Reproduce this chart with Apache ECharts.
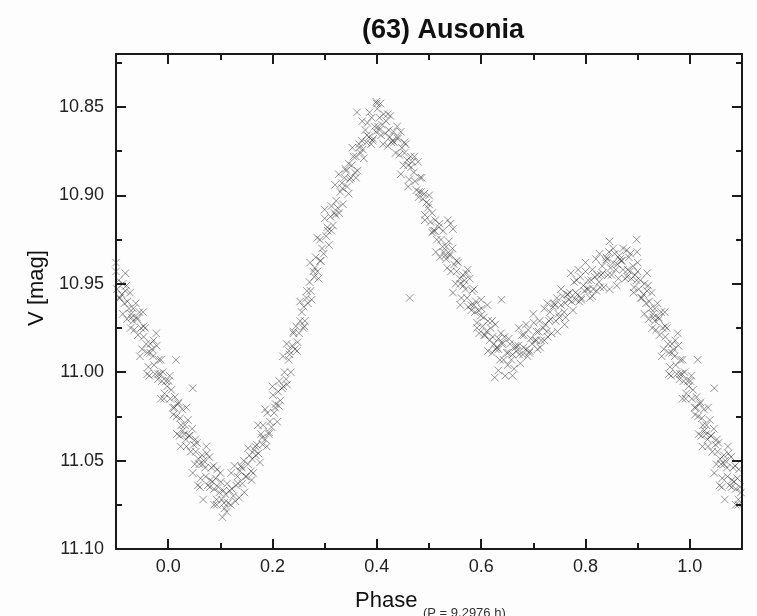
<!DOCTYPE html>
<html>
<head>
<meta charset="utf-8">
<script src="https://cdn.jsdelivr.net/npm/echarts@6/dist/echarts.min.js"></script>
<style>html,body{margin:0;padding:0;background:#fdfdfd;}#chart{width:757px;height:616px;}</style>
</head>
<body>
<div id="chart"></div>
<script>
// Light curve of (63) Ausonia: [phase, V magnitude], one rotation (phase 0..1)
const lightCurveA = [
[0.001,11.005],[0.004,11.015],[0.006,11.010],[0.009,11.020],
[0.012,11.020],[0.013,11.014],[0.016,11.025],[0.019,11.018],
[0.020,11.017],[0.023,11.026],[0.025,11.030],[0.028,11.033],
[0.031,11.035],[0.032,11.030],[0.035,11.042],[0.038,11.027],
[0.040,11.036],[0.043,11.045],[0.046,11.032],[0.049,11.041],
[0.051,11.052],[0.053,11.045],[0.055,11.040],[0.058,11.049],
[0.060,11.052],[0.062,11.060],[0.065,11.047],[0.068,11.050],[0.067,11.072],
[0.071,11.054],[0.072,11.059],[0.076,11.064],[0.079,11.048],
[0.080,11.065],[0.083,11.054],[0.085,11.062],[0.088,11.066],
[0.091,11.060],[0.093,11.072],[0.096,11.065],[0.098,11.068],
[0.101,11.062],[0.103,11.072],[0.106,11.067],[0.108,11.077],[0.104,11.082],
[0.110,11.069],[0.113,11.063],[0.115,11.074],[0.118,11.067],
[0.121,11.057],[0.122,11.066],[0.125,11.070],[0.129,11.073],
[0.130,11.064],[0.133,11.059],[0.136,11.071],[0.138,11.056],
[0.141,11.054],[0.142,11.063],[0.145,11.050],[0.148,11.059],
[0.150,11.059],[0.153,11.052],[0.156,11.047],[0.159,11.056],
[0.161,11.049],[0.163,11.057],[0.165,11.044],[0.168,11.047],
[0.170,11.041],[0.173,11.046],[0.176,11.051],[0.178,11.035],
[0.181,11.041],[0.182,11.030],[0.186,11.038],[0.189,11.042],
[0.190,11.023],[0.193,11.035],[0.195,11.028],[0.198,11.031],
[0.201,11.013],[0.203,11.023],[0.206,11.018],[0.209,11.028],
[0.211,11.011],[0.213,11.005],[0.215,11.016],[0.218,11.009],
[0.220,10.991],[0.223,11.000],[0.226,11.004],[0.228,11.007],
[0.231,10.993],[0.232,10.988],[0.235,11.000],[0.238,10.985],
[0.240,10.978],[0.243,10.987],[0.245,10.974],[0.248,10.983],
[0.251,10.978],[0.253,10.971],[0.256,10.966],[0.259,10.975],
[0.260,10.963],[0.262,10.971],[0.265,10.958],[0.268,10.961],
[0.271,10.949],[0.273,10.954],[0.275,10.959],[0.278,10.943],
[0.280,10.946],[0.283,10.935],[0.286,10.943],[0.288,10.947],
[0.291,10.925],[0.292,10.937],[0.295,10.930],[0.298,10.933],
[0.300,10.913],[0.303,10.923],[0.305,10.918],[0.308,10.928],
[0.311,10.912],[0.313,10.906],[0.316,10.917],[0.319,10.910],
[0.320,10.894],[0.322,10.903],[0.325,10.907],[0.328,10.910],
[0.330,10.898],[0.333,10.893],[0.335,10.905],[0.338,10.890],
[0.341,10.886],[0.343,10.895],[0.346,10.882],[0.348,10.891],
[0.350,10.890],[0.352,10.883],[0.355,10.878],[0.358,10.887],
[0.360,10.878],[0.363,10.886],[0.366,10.873],[0.369,10.876],[0.362,10.853],
[0.371,10.869],[0.373,10.874],[0.375,10.879],[0.378,10.863],
[0.380,10.870],[0.382,10.859],[0.385,10.867],[0.389,10.871],
[0.390,10.856],[0.393,10.868],[0.396,10.861],[0.398,10.864],
[0.401,10.851],[0.402,10.861],[0.405,10.856],[0.408,10.866],[0.399,10.847],[0.407,10.848],
[0.410,10.860],[0.413,10.854],[0.416,10.865],[0.418,10.858],
[0.421,10.854],[0.423,10.863],[0.425,10.867],[0.428,10.870],
[0.430,10.869],[0.432,10.864],[0.436,10.876],[0.439,10.861],
[0.440,10.868],[0.443,10.877],[0.446,10.864],[0.448,10.873],
[0.451,10.883],[0.453,10.876],[0.455,10.871],[0.458,10.880],
[0.460,10.883],[0.462,10.891],[0.465,10.878],[0.468,10.881],[0.463,10.958],
[0.471,10.887],[0.473,10.892],[0.476,10.897],[0.479,10.881],
[0.480,10.901],[0.483,10.890],[0.485,10.898],[0.488,10.902],
[0.491,10.899],[0.492,10.911],[0.495,10.904],[0.498,10.907],
[0.500,10.905],[0.503,10.915],[0.506,10.910],[0.508,10.920],
[0.511,10.920],[0.512,10.914],[0.515,10.925],[0.519,10.918],
[0.520,10.916],[0.523,10.925],[0.526,10.929],[0.528,10.932],
[0.531,10.934],[0.533,10.929],[0.535,10.941],[0.538,10.926],[0.536,10.914],
[0.540,10.934],[0.542,10.943],[0.545,10.930],[0.548,10.939],[0.541,10.916],[0.546,10.919],
[0.551,10.950],[0.553,10.943],[0.556,10.938],[0.559,10.947],
[0.560,10.950],[0.562,10.958],[0.565,10.945],[0.568,10.948],
[0.570,10.953],[0.573,10.958],[0.575,10.963],[0.578,10.947],[0.574,10.942],
[0.581,10.965],[0.583,10.954],[0.586,10.962],[0.588,10.966],
[0.590,10.960],[0.592,10.972],[0.595,10.965],[0.599,10.968],[0.596,10.978],
[0.601,10.964],[0.603,10.974],[0.605,10.969],[0.608,10.979],
[0.610,10.977],[0.613,10.971],[0.616,10.982],[0.618,10.975],[0.612,10.962],
[0.621,10.971],[0.622,10.980],[0.625,10.984],[0.628,10.987],[0.626,11.003],
[0.630,10.986],[0.633,10.981],[0.636,10.993],[0.638,10.978],[0.639,10.959],[0.633,10.999],
[0.640,10.984],[0.643,10.993],[0.645,10.980],[0.649,10.989],
[0.651,10.996],[0.652,10.989],[0.655,10.984],[0.658,10.993],
[0.660,10.990],[0.663,10.998],[0.666,10.985],[0.668,10.988],
[0.671,10.985],[0.673,10.990],[0.675,10.995],[0.678,10.979],
[0.680,10.990],[0.682,10.979],[0.686,10.987],[0.689,10.991],
[0.690,10.976],[0.693,10.988],[0.695,10.981],[0.698,10.984],
[0.701,10.972],[0.703,10.982],[0.706,10.977],[0.708,10.987],
[0.710,10.977],[0.712,10.971],[0.715,10.982],[0.719,10.975],
[0.721,10.964],[0.723,10.973],[0.726,10.977],[0.728,10.980],
[0.730,10.971],[0.732,10.966],[0.735,10.978],[0.738,10.963],
[0.741,10.962],[0.743,10.971],[0.745,10.958],[0.748,10.967],
[0.750,10.969],[0.753,10.962],[0.756,10.957],[0.759,10.966],
[0.761,10.961],[0.762,10.969],[0.765,10.956],[0.768,10.959],
[0.770,10.955],[0.773,10.960],[0.776,10.965],[0.778,10.949],
[0.781,10.959],[0.783,10.948],[0.785,10.956],[0.788,10.960],
[0.790,10.946],[0.792,10.958],[0.796,10.951],[0.798,10.954],
[0.800,10.943],[0.803,10.953],[0.805,10.948],[0.809,10.958],
[0.811,10.948],[0.813,10.942],[0.815,10.953],[0.818,10.946],
[0.820,10.936],[0.823,10.945],[0.826,10.949],[0.828,10.952],
[0.830,10.945],[0.832,10.940],[0.835,10.952],[0.839,10.937],
[0.841,10.936],[0.843,10.945],[0.845,10.932],[0.848,10.941],[0.846,10.926],
[0.850,10.945],[0.853,10.938],[0.856,10.933],[0.858,10.942],
[0.861,10.939],[0.863,10.947],[0.865,10.934],[0.868,10.937],
[0.870,10.937],[0.872,10.942],[0.876,10.947],[0.879,10.931],
[0.880,10.946],[0.883,10.935],[0.885,10.943],[0.888,10.947],
[0.891,10.940],[0.893,10.952],[0.895,10.945],[0.898,10.948],[0.898,10.925],[0.899,10.932],
[0.900,10.943],[0.902,10.953],[0.905,10.948],[0.908,10.958],
[0.911,10.956],[0.913,10.950],[0.916,10.961],[0.918,10.954],[0.918,10.944],
[0.920,10.951],[0.922,10.960],[0.925,10.964],[0.929,10.967],[0.928,10.975],
[0.930,10.969],[0.933,10.964],[0.935,10.976],[0.938,10.961],
[0.941,10.970],[0.942,10.979],[0.945,10.966],[0.948,10.975],
[0.950,10.987],[0.953,10.980],[0.956,10.975],[0.958,10.984],[0.952,10.966],
[0.960,10.989],[0.962,10.997],[0.966,10.984],[0.969,10.987],[0.964,11.002],
[0.971,10.991],[0.973,10.996],[0.975,11.001],[0.978,10.985],[0.977,10.978],
[0.980,11.004],[0.982,10.993],[0.985,11.001],[0.988,11.005],[0.986,11.015],
[0.990,11.000],[0.993,11.012],[0.996,11.005],[0.998,11.008],
[0.015,10.993],[0.047,11.009],[0.024,11.042],[0.035,11.020],[0.057,11.064],
[0.073,11.042],[0.088,11.075],[0.094,11.055]
];

// second set of observations (wider scatter)
const lightCurveB = [
[0.003,11.002],[0.010,11.024],[0.017,11.035],
[0.022,11.036],[0.027,11.021],[0.034,11.038],
[0.041,11.036],[0.047,11.057],[0.052,11.038],
[0.061,11.065],[0.066,11.052],[0.074,11.046],
[0.081,11.061],[0.087,11.053],[0.093,11.075],
[0.100,11.057],[0.107,11.074],[0.112,11.079],
[0.120,11.075],[0.127,11.053],[0.134,11.063],
[0.140,11.053],[0.146,11.068],[0.153,11.043],
[0.160,11.061],[0.167,11.042],[0.172,11.030],
[0.180,11.037],[0.186,11.021],[0.193,11.034],
[0.200,11.008],[0.205,11.020],[0.212,11.019],
[0.221,11.008],[0.227,10.984],[0.233,10.990],
[0.240,10.977],[0.247,10.988],[0.253,10.960],
[0.261,10.974],[0.266,10.954],[0.272,10.938],
[0.281,10.941],[0.286,10.924],[0.292,10.937],
[0.300,10.908],[0.306,10.920],[0.313,10.920],
[0.321,10.911],[0.327,10.888],[0.334,10.896],
[0.340,10.885],[0.346,10.899],[0.353,10.873],
[0.360,10.890],[0.366,10.871],[0.372,10.858],
[0.381,10.866],[0.386,10.853],[0.392,10.869],
[0.400,10.848],[0.405,10.863],[0.412,10.871],
[0.421,10.872],[0.426,10.855],[0.433,10.870],
[0.440,10.867],[0.446,10.888],[0.453,10.870],
[0.460,10.895],[0.466,10.884],[0.472,10.878],
[0.481,10.898],[0.486,10.890],[0.492,10.914],
[0.500,10.900],[0.506,10.921],[0.513,10.932],
[0.521,10.935],[0.527,10.920],[0.533,10.936],
[0.540,10.933],[0.546,10.955],[0.553,10.937],
[0.560,10.962],[0.566,10.951],[0.572,10.944],
[0.581,10.962],[0.586,10.953],[0.592,10.975],
[0.600,10.959],[0.606,10.979],[0.613,10.988],
[0.621,10.989],[0.627,10.973],[0.633,10.987],
[0.640,10.983],[0.646,11.002],[0.653,10.981],
[0.660,11.002],[0.666,10.986],[0.672,10.975],
[0.681,10.986],[0.686,10.973],[0.692,10.989],
[0.700,10.967],[0.706,10.982],[0.713,10.986],
[0.721,10.982],[0.727,10.961],[0.733,10.970],
[0.740,10.961],[0.746,10.977],[0.753,10.953],
[0.760,10.973],[0.766,10.956],[0.772,10.944],
[0.781,10.955],[0.786,10.942],[0.792,10.959],
[0.800,10.938],[0.806,10.953],[0.813,10.957],
[0.821,10.954],[0.827,10.933],[0.833,10.944],
[0.840,10.935],[0.846,10.953],[0.853,10.930],
[0.860,10.951],[0.866,10.936],[0.872,10.930],
[0.881,10.942],[0.886,10.933],[0.892,10.955],
[0.900,10.938],[0.906,10.958],[0.913,10.967],
[0.921,10.970],[0.927,10.955],[0.933,10.971],
[0.940,10.969],[0.946,10.991],[0.953,10.974],
[0.960,11.001],[0.966,10.989],[0.972,10.982],
[0.981,11.001],[0.986,10.993],[0.992,11.015]
];

const xMajorTicks = [0.0, 0.2, 0.4, 0.6, 0.8, 1.0];
const xMinorTicks = [0.1, 0.3, 0.5, 0.7, 0.9];
const yMajorTicks = [10.85, 10.90, 10.95, 11.00, 11.05, 11.10];
const yMinorTicks = [10.825, 10.875, 10.925, 10.975, 11.025, 11.075];
const xRange = [-0.1, 1.1];
const yRange = [10.82, 11.10];
const titleText = '(63) Ausonia';
const xName = 'Phase';
const xSub = '(P = 9.2976 h)';
const yName = 'V [mag]';

// Phased plot shows the cycle extended by 0.1 on each side (same observations repeated)
const plotted = [];
lightCurveA.concat(lightCurveB).forEach(([p, m]) => {
  plotted.push([p, m]);
  if (p < 0.1) plotted.push([+(p + 1).toFixed(3), m]);
  if (p >= 0.9) plotted.push([+(p - 1).toFixed(3), m]);
});

const FONT = '"Liberation Sans", Arial, Helvetica, sans-serif';
const LINE = '#1a1a1a';

function xAx(pos, ticks, len, showLine, showLabel) {
  return {
    type: 'value', position: pos, min: xRange[0], max: xRange[1],
    axisLine: { show: showLine, onZero: false, lineStyle: { color: LINE, width: 2 } },
    axisTick: { show: true, inside: true, length: len, customValues: ticks, lineStyle: { color: LINE, width: 2 } },
    axisLabel: { show: showLabel, customValues: ticks, margin: 9, fontSize: 18, color: '#222', fontFamily: FONT,
      formatter: v => v.toFixed(1) },
    splitLine: { show: false }
  };
}
function yAx(pos, ticks, len, showLine, showLabel) {
  return {
    type: 'value', position: pos, min: yRange[0], max: yRange[1], inverse: true,
    axisLine: { show: showLine, onZero: false, lineStyle: { color: LINE, width: 2 } },
    axisTick: { show: true, inside: true, length: len, customValues: ticks, lineStyle: { color: LINE, width: 2 } },
    axisLabel: { show: showLabel, customValues: ticks, margin: 12, fontSize: 18, color: '#222', fontFamily: FONT,
      formatter: v => v.toFixed(2) },
    splitLine: { show: false }
  };
}

const chart = echarts.init(document.getElementById('chart'), null, { renderer: 'canvas' });
chart.setOption({
  animation: false,
  backgroundColor: '#fdfdfd',
  title: {
    text: titleText, left: 438, top: 12, textAlign: 'center',
    textStyle: { fontFamily: FONT, fontWeight: 'bold', fontSize: 27, color: '#111' }
  },
  grid: { left: 116, right: 15, top: 54, bottom: 67 },
  xAxis: [
    xAx('bottom', xMajorTicks, 10, true, true),
    xAx('bottom', xMinorTicks, 6, false, false),
    xAx('top', xMajorTicks, 10, true, false),
    xAx('top', xMinorTicks, 6, false, false)
  ],
  yAxis: [
    yAx('left', yMajorTicks, 10, true, true),
    yAx('left', yMinorTicks, 6, false, false),
    yAx('right', yMajorTicks, 10, true, false),
    yAx('right', yMinorTicks, 6, false, false)
  ],
  graphic: [
    { type: 'text', left: 355, top: 590, style: { text: xName, fontFamily: FONT, fontSize: 22, fill: '#111' } },
    { type: 'text', left: 423, top: 607, style: { text: xSub, fontFamily: FONT, fontSize: 13, fill: '#333' } },
    { type: 'text', x: 37, y: 288, rotation: Math.PI / 2,
      style: { text: yName, fontFamily: FONT, fontSize: 22, fill: '#111', align: 'center', verticalAlign: 'middle' } }
  ],
  series: [{
    type: 'scatter',
    xAxisIndex: 0, yAxisIndex: 0,
    data: plotted,
    symbol: 'path://M0 0L10 10M10 0L0 10',
    symbolSize: 7.5,
    itemStyle: { color: 'none', borderColor: 'rgba(35,35,35,0.6)', borderWidth: 1 },
    emphasis: { disabled: true }
  }]
});
</script>
</body>
</html>
